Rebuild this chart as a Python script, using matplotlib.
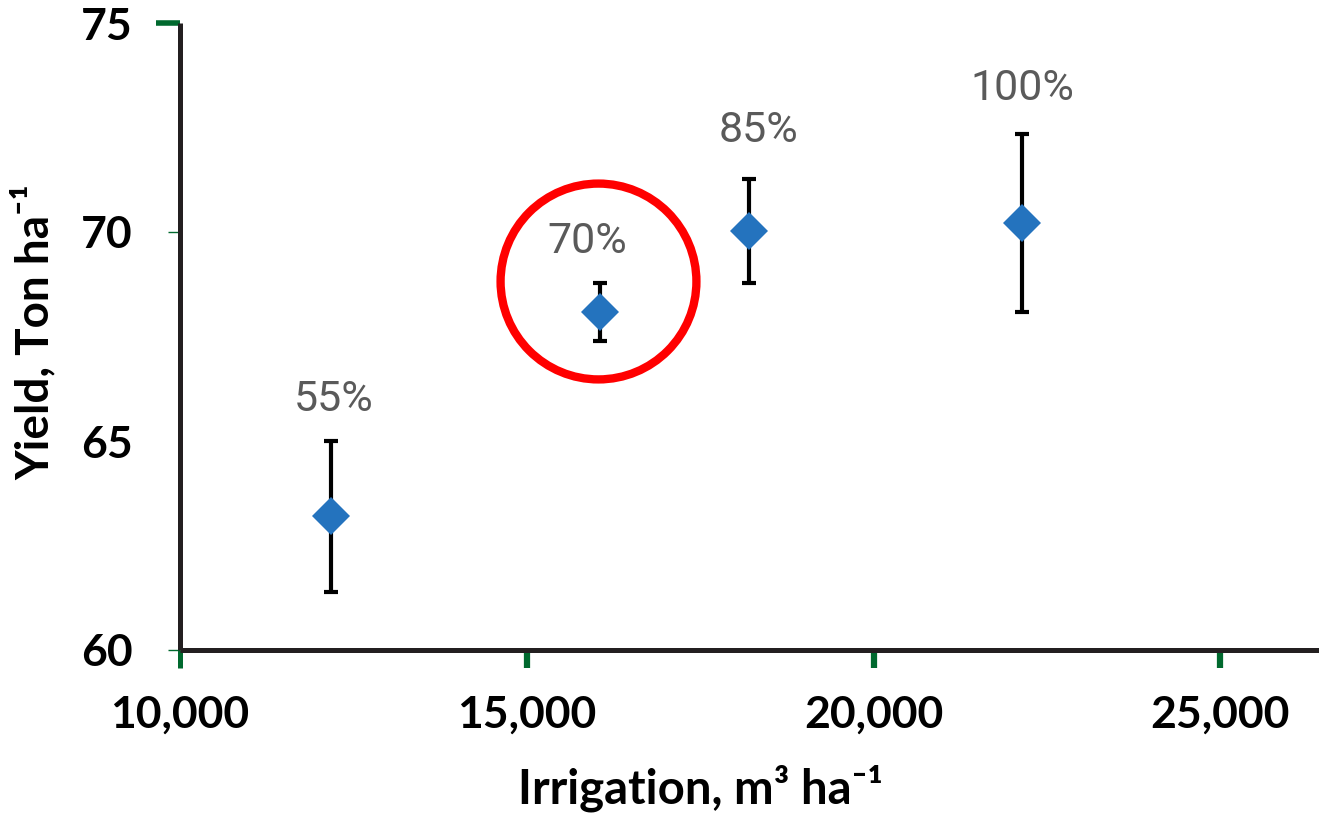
"""
Yield vs irrigation with error bars, 70% treatment circled.
"""
import matplotlib
matplotlib.use("Agg")
import matplotlib.pyplot as plt
import matplotlib.transforms as mtransforms
from matplotlib.ticker import FuncFormatter

plt.rcParams['font.family'] = ['Lato', 'DejaVu Sans']

# data
irrigation = [12180, 16055, 18200, 22140]
yield_mean = [63.21, 68.09, 70.02, 70.21]
err_low = [1.82, 0.69, 1.24, 2.13]
err_high = [1.79, 0.69, 1.25, 2.13]
labels = ["55%", "70%", "85%", "100%"]
x_ticks = [10000, 15000, 20000, 25000]
y_ticks = [60, 65, 70, 75]
highlight = "70%"

fig = plt.figure(figsize=(13.19, 8.15), dpi=100)
ax = fig.add_axes([180/1319, 1 - 650/815, 1 - 180/1319, (650 - 23)/815])

ax.errorbar(irrigation, yield_mean, yerr=[err_low, err_high], fmt='none',
            ecolor='black', elinewidth=3, capsize=5, capthick=3, zorder=2)
ax.plot(irrigation, yield_mean, 'D', color='#2473BE', ms=19, mew=0, zorder=3)

# label offsets in points (dx, dy) above upper whisker
offs = [(2, 30), (-9, 30), (7, 35), (0, 33)]
for x, y, eh, lab, o in zip(irrigation, yield_mean, err_high, labels, offs):
    ax.annotate(lab, (x, y + eh), xytext=o, textcoords='offset points',
                ha='center', va='center', fontsize=31, color='#5A5A5A',
                family=['Roboto', 'DejaVu Sans'])

# red circle around the highlighted treatment
i = labels.index(highlight)
shift = mtransforms.ScaledTranslation(-0.015, 0.31, fig.dpi_scale_trans)
ax.plot(irrigation[i], yield_mean[i], 'o', ms=141, mfc='none', mec='#FF0000',
        mew=6, transform=ax.transData + shift, clip_on=False, zorder=4)

ax.set_xlim(10000, 10000 + (1319 - 180) / 346.8 * 5000)
ax.set_ylim(60, 75)

for s in ['top', 'right']:
    ax.spines[s].set_visible(False)
for s in ['left', 'bottom']:
    ax.spines[s].set_linewidth(3.6)
    ax.spines[s].set_color('#231F20')
    ax.spines[s].set_capstyle('butt')

ax.set_xticks(x_ticks)
ax.set_yticks(y_ticks)
ax.xaxis.set_major_formatter(FuncFormatter(lambda v, p: f"{int(v):,}"))
ax.tick_params(axis='x', direction='out', length=13, width=4.5, color='#00692E',
               pad=19, labelsize=32)
ax.tick_params(axis='y', direction='out', length=17, width=4, color='#00692E',
               pad=17, labelsize=32)
for t in ax.get_xticklabels() + ax.get_yticklabels():
    t.set_fontweight('bold')

# first x tick continues the dark spine; lower y ticks thin gray
ax.xaxis.get_major_ticks()[0].tick1line.set_color('#231F20')
ax.xaxis.get_major_ticks()[0].tick1line.set_markeredgewidth(3.6)
for k, tk in enumerate(ax.yaxis.get_major_ticks()[:3]):
    tk.tick1line.set_color('#BBBBBB')
    tk.tick1line.set_markeredgewidth(1)
    tk.tick1line.set_markersize(9 if k != 1 else 0)

ax.set_xlabel('Irrigation, m\u00b3 ha\u207b\u00b9', fontsize=34, fontweight='bold')
ax.xaxis.label.set_va('baseline')
ax.xaxis.set_label_coords((700 - 180) / (1319 - 180), -(803 - 650) / 627)
ax.set_ylabel('Yield, Ton ha\u207b\u00b9', fontsize=33, fontweight='bold')
ax.yaxis.set_label_coords(-0.108, (650 - 332) / 627)

fig.savefig('out.png', dpi=100)
